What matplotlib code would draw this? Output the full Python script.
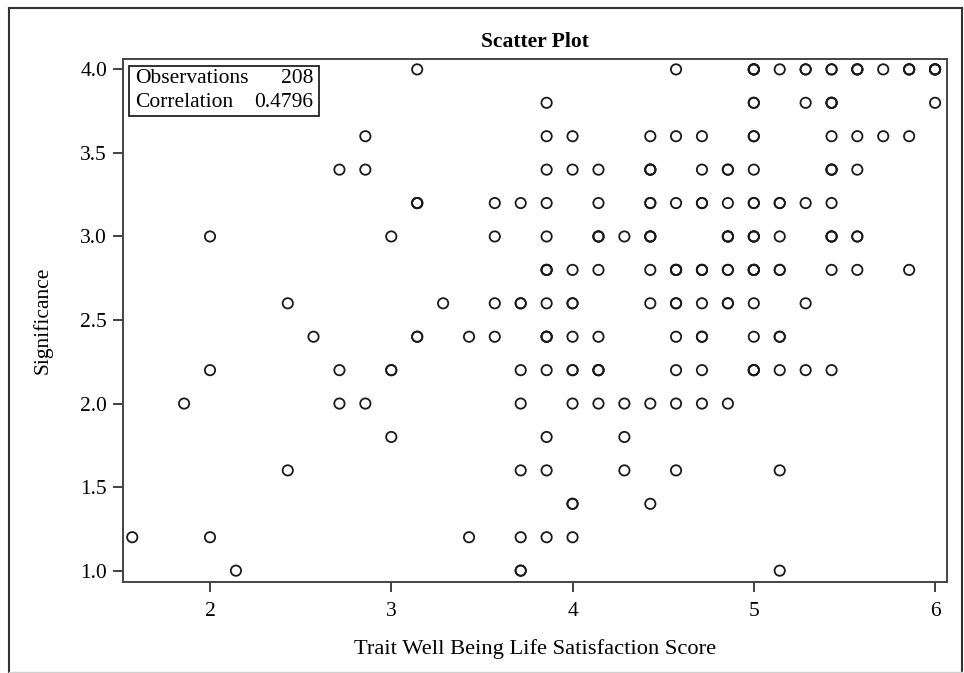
import numpy as np
import matplotlib
matplotlib.use("Agg")
from matplotlib import pyplot as plt
from matplotlib.patches import Rectangle
from matplotlib.lines import Line2D

plt.rcParams['font.family'] = ['Liberation Serif', 'DejaVu Serif']

# life satisfaction score, significance rating, number of subjects at that pair
score = [
    3.143, 4.571, 5.0, 5.143, 5.286, 5.429, 5.571, 5.714, 5.857, 6.0,           # 4.0
    3.857, 5.0, 5.286, 5.429, 6.0,                                               # 3.8
    2.857, 3.857, 4.0, 4.429, 4.571, 4.714, 5.0, 5.429, 5.571, 5.714, 5.857,     # 3.6
    2.714, 2.857, 3.857, 4.0, 4.143, 4.429, 4.714, 4.857, 5.0, 5.429, 5.571,     # 3.4
    3.143, 3.571, 3.714, 3.857, 4.143, 4.429, 4.571, 4.714, 4.857, 5.0, 5.143,
    5.286, 5.429,                                                                # 3.2
    2.0, 3.0, 3.571, 3.857, 4.143, 4.286, 4.429, 4.857, 5.0, 5.143, 5.429, 5.571,  # 3.0
    3.857, 4.0, 4.143, 4.429, 4.571, 4.714, 4.857, 5.0, 5.143, 5.429, 5.571, 5.857,  # 2.8
    2.429, 3.286, 3.571, 3.714, 3.857, 4.0, 4.429, 4.571, 4.714, 4.857, 5.0, 5.286,  # 2.6
    2.571, 3.143, 3.429, 3.571, 3.857, 4.0, 4.143, 4.571, 4.714, 5.0, 5.143,     # 2.4
    2.0, 2.714, 3.0, 3.714, 3.857, 4.0, 4.143, 4.571, 4.714, 5.0, 5.143, 5.286, 5.429,  # 2.2
    1.857, 2.714, 2.857, 3.714, 4.0, 4.143, 4.286, 4.429, 4.571, 4.714, 4.857,   # 2.0
    3.0, 3.857, 4.286,                                                           # 1.8
    2.429, 3.714, 3.857, 4.286, 4.571, 5.143,                                    # 1.6
    4.0, 4.429,                                                                  # 1.4
    1.571, 2.0, 3.429, 3.714, 3.857, 4.0,                                        # 1.2
    2.143, 3.714, 5.143,                                                         # 1.0
]
significance = (
    [4.0] * 10 + [3.8] * 5 + [3.6] * 11 + [3.4] * 11 + [3.2] * 13 + [3.0] * 12
    + [2.8] * 12 + [2.6] * 12 + [2.4] * 11 + [2.2] * 13 + [2.0] * 11 + [1.8] * 3
    + [1.6] * 6 + [1.4] * 2 + [1.2] * 6 + [1.0] * 3
)
n_at_point = [
    1, 1, 4, 1, 2, 2, 3, 1, 3, 4,
    1, 2, 1, 3, 1,
    1, 1, 1, 1, 1, 1, 2, 1, 1, 1, 1,
    1, 1, 1, 1, 1, 3, 1, 2, 1, 3, 1,
    3, 1, 1, 1, 1, 2, 1, 2, 1, 2, 2, 1, 1,
    1, 1, 1, 1, 3, 1, 3, 3, 3, 1, 3, 2,
    3, 1, 1, 1, 4, 3, 2, 4, 2, 1, 1, 1,
    1, 1, 1, 2, 1, 2, 1, 2, 1, 2, 1, 1,
    1, 2, 1, 1, 3, 1, 1, 1, 2, 1, 2,
    1, 1, 2, 1, 1, 2, 3, 1, 1, 3, 1, 1, 1,
    1, 1, 1, 1, 1, 1, 1, 1, 1, 1, 1,
    1, 1, 1,
    1, 1, 1, 1, 1, 1,
    2, 1,
    1, 1, 1, 1, 1, 1,
    1, 2, 1,
]
correlation = 0.4796

x = np.repeat(score, n_at_point)
y = np.repeat(significance, n_at_point)

fs = 15.5

fig = plt.figure(figsize=(9.64, 6.73), dpi=100)
ax = fig.add_axes([0.1276, 0.1352, 0.9824 - 0.1276, 0.9123 - 0.1352])

ax.scatter(x, y, s=55, facecolors='none', edgecolors='#1a1a1a', linewidths=1.3, zorder=3)

ax.set_xlim(1.52, 6.066)
ax.set_ylim(0.932, 4.062)
ax.set_xticks([2, 3, 4, 5, 6])
ax.set_yticks([1.0, 1.5, 2.0, 2.5, 3.0, 3.5, 4.0])
ax.set_yticklabels(['1.0', '1.5', '2.0', '2.5', '3.0', '3.5', '4.0'])
ax.tick_params(direction='out', length=7.5, width=1.3, color='#333333',
               labelsize=fs, pad=4)
ax.tick_params(axis='x', pad=7)
for sp in ax.spines.values():
    sp.set_color('#444444')
    sp.set_linewidth(1.4)

ax.set_title('Scatter Plot', fontsize=fs, fontweight='bold', pad=9)
ax.set_xlabel('Trait Well Being Life Satisfaction Score', fontsize=16.2, labelpad=13)
ax.set_ylabel('Significance', fontsize=fs, labelpad=20)

# stats inset in the top-left corner
box = Rectangle((0.0073, 0.891), 0.231, 0.0956, transform=ax.transAxes,
                facecolor='white', edgecolor='#222222', linewidth=1.3, zorder=4)
ax.add_patch(box)
ax.text(0.0146, 0.962, 'Observations', transform=ax.transAxes, fontsize=fs,
        va='center', ha='left', zorder=5)
ax.text(0.2306, 0.962, f'{len(x)}', transform=ax.transAxes, fontsize=fs,
        va='center', ha='right', zorder=5)
ax.text(0.0146, 0.916, 'Correlation', transform=ax.transAxes, fontsize=fs,
        va='center', ha='left', zorder=5)
ax.text(0.2306, 0.916, f'{correlation:.4f}', transform=ax.transAxes, fontsize=fs,
        va='center', ha='right', zorder=5)

# outer frame around the whole graphic
W, H = 964, 673
frame = [((9, 9), (H - 8, 0)), ((9, 962), (H - 8, H - 8)), ((962, 962), (H - 8, 0))]
for xs, ys in frame:
    fig.add_artist(Line2D([v / W for v in xs], [v / H for v in ys],
                          transform=fig.transFigure, color='#333333', linewidth=1.5))
fig.add_artist(Line2D([9 / W, 962 / W], [1 / H, 1 / H], transform=fig.transFigure,
                      color='#d0d0d0', linewidth=1.0))

fig.savefig('out.png', dpi=100)
